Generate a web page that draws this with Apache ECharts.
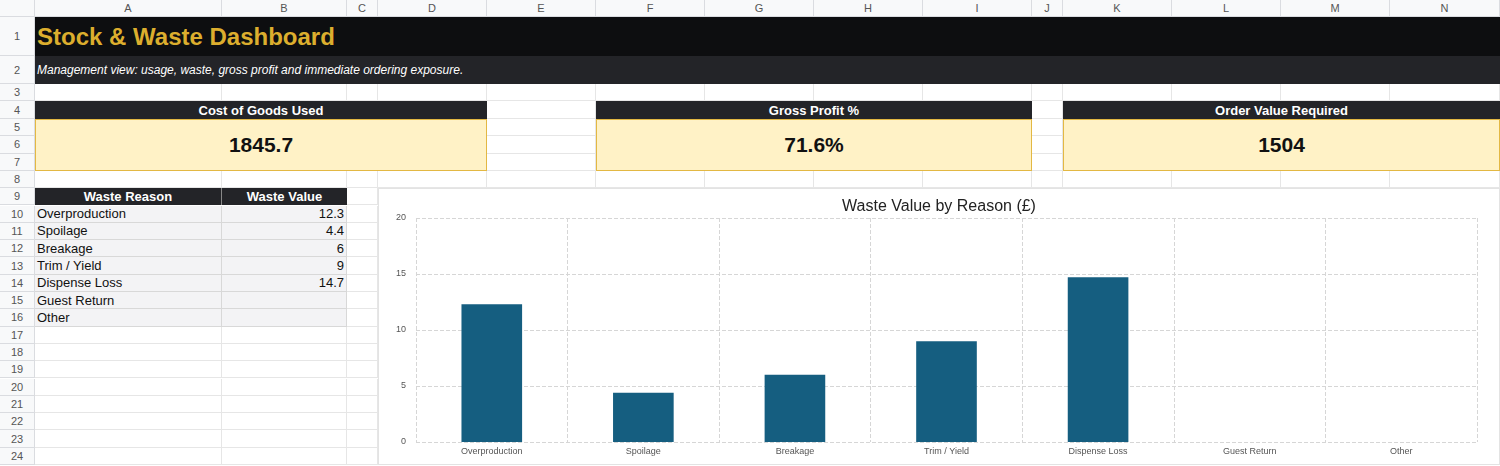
<!DOCTYPE html>
<html lang="en">
<head>
<meta charset="UTF-8">
<title>Stock & Waste Dashboard</title>
<script src="https://cdn.jsdelivr.net/npm/echarts@6/dist/echarts.min.js"></script>
<style>
  body { margin: 0; width: 1500px; height: 466px; overflow: hidden; font-family: "Liberation Sans", Arial, sans-serif; background: #fff; position: relative; }
  .c { position: absolute; box-sizing: border-box; }
  .hdr { background: #f8f9fa; color: #555; font-size: 11px; display: flex; align-items: center; justify-content: center; border-right: 1px solid #dadce0; border-bottom: 1px solid #dadce0; }
  .cell { border-right: 1px solid #e6e6e6; border-bottom: 1px solid #e6e6e6; }
</style>
</head>
<body>
<div id="sheet"></div>
<div id="chart" class="c" style="left:378px;top:188px;width:1122px;height:277px;border:1px solid #e3e3e3;background:#fff;"></div>
<script>
  // data
  var reasons = ['Overproduction', 'Spoilage', 'Breakage', 'Trim / Yield', 'Dispense Loss', 'Guest Return', 'Other'];
  var wasteValues = [12.3, 4.4, 6, 9, 14.7, 0, 0];
  var kpiTitles = ['Cost of Goods Used', 'Gross Profit %', 'Order Value Required'];
  var kpiValues = ['1845.7', '71.6%', '1504'];

  // sheet layout
  var colEdges = [0, 35, 222, 347, 378, 487, 596, 705, 814, 923, 1032, 1063, 1172, 1281, 1390, 1500];
  var colNames = ['A','B','C','D','E','F','G','H','I','J','K','L','M','N'];
  var rowEdges = [0, 17, 56, 84, 101, 119];
  for (var r = 5; r <= 24; r++) rowEdges.push(119 + (r - 4) * 17.3);
  var sheet = document.getElementById('sheet');
  function box(x1, y1, x2, y2, cls, style, html) {
    var d = document.createElement('div');
    d.className = 'c ' + (cls || '');
    d.style.cssText = 'left:' + x1 + 'px;top:' + y1 + 'px;width:' + (x2 - x1) + 'px;height:' + (y2 - y1) + 'px;' + (style || '');
    if (html) d.innerHTML = html;
    sheet.appendChild(d);
    return d;
  }
  box(0, 0, 35, 17, 'hdr');
  for (var i = 0; i < colNames.length; i++) box(colEdges[i + 1], 0, colEdges[i + 2], 17, 'hdr', '', colNames[i]);
  for (var r = 1; r <= 24; r++) {
    box(0, rowEdges[r], 35, rowEdges[r + 1], 'hdr', '', r);
    for (var i = 1; i < colEdges.length - 1; i++) box(colEdges[i], rowEdges[r], colEdges[i + 1], rowEdges[r + 1], 'cell');
  }

  // banner
  box(35, 17, 1500, 56, '', 'background:#0d0e10;color:#dcae2e;font-weight:bold;font-size:24px;display:flex;align-items:center;padding-left:2px;', 'Stock &amp; Waste Dashboard');
  box(35, 56, 1500, 84, '', 'background:#232428;color:#fff;font-style:italic;font-size:12px;display:flex;align-items:center;padding-left:2px;', 'Management view: usage, waste, gross profit and immediate ordering exposure.');

  // KPI cards
  var kpiSpans = [[35, 487], [596, 1032], [1063, 1500]];
  for (var k = 0; k < kpiTitles.length; k++) {
    var s = kpiSpans[k];
    box(s[0], 101, s[1], 119, '', 'background:#232428;color:#fff;font-weight:bold;font-size:13px;display:flex;align-items:center;justify-content:center;', kpiTitles[k]);
    box(s[0], 119, s[1], 171, '', 'background:#fff2c6;border:1px solid #e3b843;color:#111;font-weight:bold;font-size:21px;display:flex;align-items:center;justify-content:center;', kpiValues[k]);
  }

  // waste table
  box(35, 188, 222, 205, '', 'background:#232428;color:#fff;font-weight:bold;font-size:13px;display:flex;align-items:center;justify-content:center;border-right:1px solid #888;', 'Waste Reason');
  box(222, 188, 347, 205, '', 'background:#232428;color:#fff;font-weight:bold;font-size:13px;display:flex;align-items:center;justify-content:center;', 'Waste Value');
  for (var j = 0; j < reasons.length; j++) {
    var y1 = rowEdges[10 + j], y2 = rowEdges[11 + j];
    box(35, y1, 222, y2, '', 'background:#f3f3f5;border-right:1px solid #d8d8d8;border-bottom:1px solid #d8d8d8;font-size:13px;color:#111;display:flex;align-items:center;padding-left:2px;', reasons[j]);
    box(222, y1, 347, y2, '', 'background:#f3f3f5;border-right:1px solid #d8d8d8;border-bottom:1px solid #d8d8d8;font-size:13px;color:#111;display:flex;align-items:center;justify-content:flex-end;padding-right:2px;', wasteValues[j]);
  }

  // chart
  var myChart = echarts.init(document.getElementById('chart'));
  var option = {
    animation: false,
    title: {
      text: 'Waste Value by Reason (£)',
      left: 'center',
      top: 5,
      textStyle: { fontSize: 16, fontWeight: 'normal', color: '#222', fontFamily: 'Liberation Sans' }
    },
    grid: { left: 37, right: 22, top: 29, bottom: 22, containLabel: false },
    xAxis: {
      type: 'category',
      data: reasons,
      axisLine: { show: false },
      axisTick: { show: false },
      axisLabel: { fontSize: 9, color: '#555', margin: 5, interval: 0 },
      splitLine: { show: true, lineStyle: { type: 'dashed', color: '#d6d6d6' } }
    },
    yAxis: {
      type: 'value',
      min: 0,
      max: 20,
      interval: 5,
      axisLine: { show: false },
      axisTick: { show: false },
      axisLabel: { fontSize: 9, color: '#555', margin: 10 },
      splitLine: { lineStyle: { type: 'dashed', color: '#d6d6d6' } }
    },
    series: [{
      type: 'bar',
      data: wasteValues,
      barWidth: '40%',
      itemStyle: { color: '#155e80' }
    }]
  };
  myChart.setOption(option);
</script>
</body>
</html>
